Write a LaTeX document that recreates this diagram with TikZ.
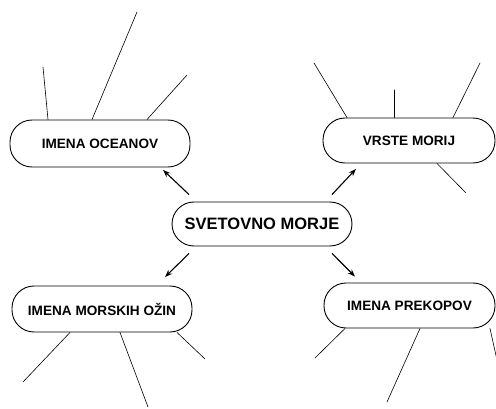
\documentclass[tikz,border=0pt]{standalone}
\usepackage{fontspec}
\setmainfont{Liberation Sans}
\usetikzlibrary{positioning,arrows.meta}
\tikzstyle{topic}=[draw,line width=0.9pt,rounded corners=22pt,minimum width=180pt,minimum height=45pt,inner sep=0pt,font=\bfseries\fontsize{13.6}{16}\selectfont]
\tikzstyle{topic edge}=[-{Stealth[length=7.5pt,width=5.5pt]},line width=1.1pt]
\tikzstyle{branch}=[line width=0.6pt,line cap=round]
\newcommand{\topicnode}[3][]{
  \node [topic, #1] (#2) {#3}
}

\begin{document}
\begin{tikzpicture}[x=1pt,y=1pt,on grid]
\useasboundingbox (0,0) rectangle (496,408);
        \topicnode[at={(262,184)},minimum height=44pt,font=\bfseries\fontsize{16.5}{19}\selectfont]{svetovno}{SVETOVNO MORJE};
        \topicnode[above left=80.5pt and 162pt of svetovno,minimum height=47pt]{oceani}{IMENA OCEANOV};
        \topicnode[above right=83.5pt and 147pt of svetovno,minimum width=172pt]{morja}{VRSTE MORIJ};
        \topicnode[below left=85pt and 160pt of svetovno,minimum height=46pt]{ozine}{IMENA MORSKIH OŽIN};
        \topicnode[below right=81.5pt and 147.5pt of svetovno,minimum width=171pt]{prekopi}{IMENA PREKOPOV};

      \draw[topic edge] ([shift={(-73,7)}]svetovno.north) -- ([shift={(63,-2.5)}]oceani.south);
            \draw[topic edge] ([shift={(70,7)}]svetovno.north) -- ([shift={(-53,-5.5)}]morja.south);
                  \draw[topic edge] ([shift={(-73,-7)}]svetovno.south) -- ([shift={(63,8.5)}]ozine.north);
                        \draw[topic edge] ([shift={(70,-7)}]svetovno.south) -- ([shift={(-54.5,6)}]prekopi.north);

\coordinate (o1) at (43,341);
\coordinate (o2) at (137,396);
\coordinate (o3) at (187,333);
\coordinate (m1) at (314,345);
\coordinate (m2) at (394,318);
\coordinate (m3) at (480,345);
\coordinate (m4) at (466,215);
\coordinate (z1) at (23,26);
\coordinate (z2) at (148,1);
\coordinate (z3) at (205,49);
\coordinate (p1) at (315,50);
\coordinate (p2) at (387,6);
\coordinate (p3) at (497,48);

\draw[branch] ([xshift=-52pt]oceani.north) -- (o1);
\draw[branch] ([xshift=-8pt]oceani.north) -- (o2);
\draw[branch] ([xshift=47pt]oceani.north) -- (o3);
\draw[branch] ([xshift=-62pt]morja.north) -- (m1);
\draw[branch] ([xshift=-15pt]morja.north) -- (m2);
\draw[branch] ([xshift=44pt]morja.north) -- (m3);
\draw[branch] ([xshift=28pt]morja.south) -- (m4);
\draw[branch] ([xshift=-32pt]ozine.south) -- (z1);
\draw[branch] ([xshift=18pt]ozine.south) -- (z2);
\draw[branch] ([xshift=75pt]ozine.south) -- (z3);
\draw[branch] ([xshift=-64.5pt]prekopi.south) -- (p1);
\draw[branch] ([xshift=10.5pt]prekopi.south) -- (p2);
\draw[branch] ([xshift=80.5pt]prekopi.south) -- (p3);
      \end{tikzpicture}
\end{document}
